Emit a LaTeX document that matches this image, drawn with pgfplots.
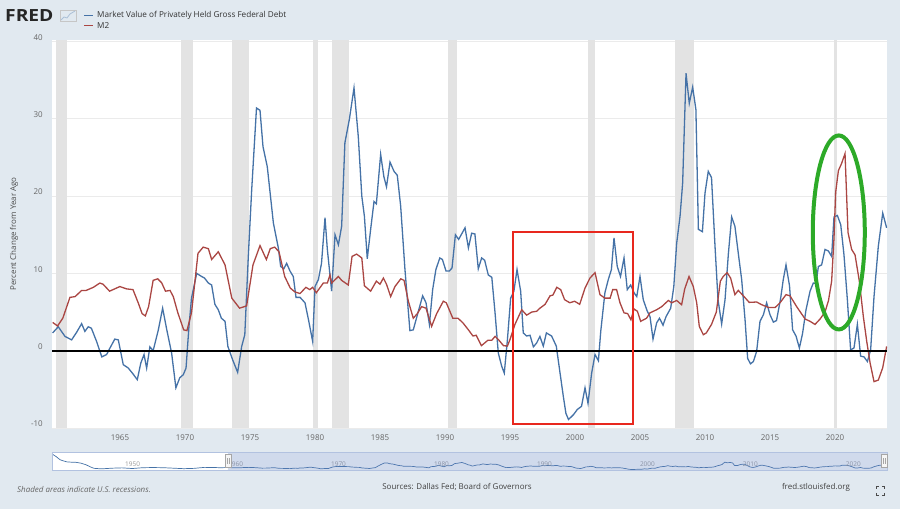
\documentclass[border=0pt]{standalone}
\usepackage{pgfplots}
\pgfplotsset{compat=1.18}
\usepackage{pgfplotstable}
\usepgfplotslibrary{fillbetween}
\usepackage{fontspec}
\setmainfont{Open Sans}
\definecolor{fredbg}{HTML}{E1E9F0}
\definecolor{fblue}{HTML}{4572A7}
\definecolor{fredred}{HTML}{AA4643}
\definecolor{recess}{HTML}{E3E3E3}
\definecolor{gridc}{HTML}{EBEBEB}
\definecolor{tickc}{HTML}{666666}
\definecolor{annred}{RGB}{232,40,30}
\definecolor{anngreen}{RGB}{45,170,40}
\definecolor{navmask}{RGB}{102,133,194}

\pgfplotstableread{
x y
1959.82 2.3
1960.25 3.1
1960.77 1.85
1961.28 1.4
1961.67 2.4
1962.05 3.5
1962.3 2.5
1962.56 3.1
1962.8 2.9
1963.2 1.2
1963.6 -0.8
1963.97 -0.5
1964.23 0.35
1964.6 1.5
1964.87 1.4
1965.25 -1.8
1965.64 -2.25
1966.0 -3.0
1966.33 -3.75
1966.6 -1.6
1966.85 -0.5
1967.05 -2.25
1967.3 0.5
1967.55 0.0
1967.95 2.7
1968.28 5.5
1968.6 2.7
1968.97 -0.3
1969.3 -4.8
1969.6 -3.5
1969.87 -3.1
1970.08 -2.25
1970.3 3.0
1970.5 6.8
1970.9 10.0
1971.28 9.6
1971.5 9.4
1971.8 8.75
1972.05 8.5
1972.3 6.0
1972.56 5.3
1972.8 4.2
1973.08 3.8
1973.3 0.55
1973.67 -1.2
1974.05 -2.8
1974.36 0.55
1974.6 2.07
1974.87 12.2
1975.13 20.8
1975.5 31.4
1975.77 31.1
1976.0 26.4
1976.33 23.8
1976.8 16.5
1977.18 13.3
1977.36 10.9
1977.6 10.6
1977.82 11.3
1978.08 10.3
1978.33 9.6
1978.54 6.9
1978.85 6.9
1979.23 6.2
1979.5 4.0
1979.82 1.2
1980.0 8.3
1980.26 9.2
1980.5 11.3
1980.77 17.2
1980.95 13.1
1981.28 7.7
1981.54 15.0
1981.8 13.7
1982.05 16.1
1982.3 26.9
1982.64 29.9
1983.0 34.0
1983.33 27.7
1983.6 20.0
1983.8 17.4
1984.02 11.9
1984.28 15.7
1984.54 19.3
1984.72 19.0
1985.05 25.4
1985.3 22.5
1985.5 21.2
1985.77 24.4
1986.08 23.2
1986.33 22.7
1986.59 18.7
1986.92 10.5
1987.3 2.6
1987.56 2.7
1987.95 5.1
1988.28 7.1
1988.54 6.2
1988.8 3.4
1989.05 7.9
1989.3 10.5
1989.6 12.0
1989.8 11.8
1990.08 10.3
1990.33 10.3
1990.54 10.7
1990.8 15.0
1991.05 14.4
1991.54 15.9
1991.8 13.3
1992.05 15.2
1992.3 15.1
1992.56 10.6
1992.82 12.0
1993.05 11.7
1993.33 9.8
1993.6 9.5
1993.85 4.9
1994.1 -0.3
1994.36 -2.0
1994.56 -2.9
1994.8 1.4
1995.05 6.8
1995.3 7.7
1995.54 10.5
1995.82 7.7
1996.02 2.3
1996.28 1.9
1996.54 2.0
1996.8 0.5
1997.05 1.0
1997.3 1.85
1997.56 0.6
1997.8 2.3
1998.2 1.9
1998.56 0.6
1998.85 -2.9
1999.1 -5.9
1999.3 -8.1
1999.5 -8.9
1999.87 -8.3
2000.18 -7.6
2000.5 -7.2
2000.77 -4.8
2001.0 -6.8
2001.28 -2.9
2001.54 -0.5
2001.8 -1.3
2001.98 2.5
2002.3 7.5
2002.56 9.2
2002.8 10.5
2003.0 14.6
2003.25 10.9
2003.5 9.6
2003.77 12.0
2004.02 7.9
2004.28 8.5
2004.54 7.5
2004.75 7.0
2005.0 9.6
2005.25 6.6
2005.56 5.1
2005.77 4.4
2006.0 1.5
2006.28 3.6
2006.5 4.2
2006.77 3.3
2007.0 4.4
2007.36 5.5
2007.6 8.3
2007.82 13.9
2008.08 17.4
2008.28 21.7
2008.54 35.9
2008.79 32.0
2009.05 34.1
2009.3 31.2
2009.49 15.7
2009.8 15.4
2010.0 20.4
2010.25 23.2
2010.5 22.4
2010.77 13.5
2011.0 6.6
2011.28 3.45
2011.54 6.6
2011.8 12.6
2012.05 17.3
2012.3 16.1
2012.56 12.6
2012.82 9.2
2013.08 4.0
2013.28 -1.0
2013.5 -1.7
2013.72 -1.4
2013.97 -0.1
2014.23 3.8
2014.49 4.65
2014.74 6.2
2015.0 4.65
2015.26 3.7
2015.5 3.9
2015.82 6.8
2016.02 9.2
2016.23 11.1
2016.5 8.4
2016.74 2.7
2017.0 1.9
2017.26 0.35
2017.5 2.2
2017.77 5.3
2018.08 7.7
2018.33 8.75
2018.54 8.7
2018.72 10.9
2018.97 11.1
2019.23 13.1
2019.49 12.9
2019.74 12.2
2019.92 17.3
2020.18 17.5
2020.44 16.3
2020.69 12.4
2020.95 6.6
2021.2 0.1
2021.46 0.35
2021.72 3.4
2021.97 -0.7
2022.23 -0.8
2022.49 -1.4
2022.74 0.1
2023.0 7.0
2023.33 13.5
2023.67 17.8
2023.97 15.9
}\bluedata

\pgfplotstableread{
x y
1959.82 3.66
1960.2 3.2
1960.6 4.2
1961.15 6.9
1961.55 7.0
1962.05 7.8
1962.4 7.8
1962.95 8.2
1963.45 8.75
1963.7 8.6
1964.2 7.7
1964.99 8.3
1965.5 8.0
1966.0 7.9
1966.4 6.2
1966.7 4.8
1966.95 4.5
1967.2 5.7
1967.55 9.1
1967.9 9.3
1968.2 8.8
1968.5 7.7
1968.85 7.8
1969.1 7.0
1969.45 4.9
1969.9 2.7
1970.15 2.6
1970.5 4.9
1971.0 12.6
1971.4 13.4
1971.8 13.2
1972.05 11.8
1972.56 12.8
1973.08 11.1
1973.6 6.8
1974.2 5.5
1974.74 5.8
1975.23 11.1
1975.77 13.6
1976.26 11.8
1976.56 13.2
1976.9 13.4
1977.23 12.8
1977.67 9.6
1978.1 8.1
1978.46 7.6
1978.85 7.4
1979.3 8.2
1979.6 7.9
1979.82 8.2
1980.1 7.5
1980.64 8.75
1980.95 8.75
1981.15 9.8
1981.28 8.75
1981.8 9.6
1982.05 9.1
1982.56 8.5
1982.85 12.2
1983.2 12.5
1983.6 12.0
1983.8 8.4
1984.28 7.7
1984.72 9.0
1985.0 8.6
1985.26 9.4
1985.5 8.6
1985.82 7.0
1986.15 8.3
1986.6 9.3
1986.85 9.1
1987.18 6.4
1987.56 4.2
1987.87 4.8
1988.2 5.7
1988.54 5.5
1988.97 3.15
1989.36 4.8
1989.87 6.4
1990.1 6.2
1990.6 4.2
1991.0 4.2
1991.38 3.6
1991.8 2.7
1992.15 1.9
1992.4 2.0
1992.8 0.65
1993.3 1.35
1993.6 1.35
1993.85 1.85
1994.1 1.45
1994.5 0.65
1994.8 0.6
1995.0 1.45
1995.38 3.4
1995.9 5.3
1996.28 4.6
1996.67 5.0
1997.05 5.1
1997.3 5.5
1997.7 6.0
1998.08 7.1
1998.3 7.2
1998.6 8.2
1998.9 7.9
1999.2 6.6
1999.6 6.2
1999.97 6.4
2000.36 6.0
2000.77 8.1
2001.15 9.4
2001.54 10.1
2001.92 7.25
2002.3 6.8
2002.7 6.8
2002.9 7.9
2003.2 7.9
2003.46 6.2
2003.77 4.9
2004.05 4.8
2004.3 4.0
2004.54 5.4
2004.8 5.1
2005.05 3.8
2005.5 4.2
2005.77 4.9
2006.28 5.3
2006.67 5.7
2007.18 6.5
2007.44 6.2
2007.82 6.5
2008.2 5.95
2008.44 8.0
2008.77 9.6
2009.1 8.3
2009.36 6.2
2009.56 3.15
2009.87 2.07
2010.1 2.3
2010.5 3.4
2010.87 5.0
2011.18 9.0
2011.4 9.6
2011.7 10.1
2011.97 9.4
2012.3 7.25
2012.56 7.8
2012.95 7.1
2013.4 6.25
2013.97 6.3
2014.36 5.95
2014.87 5.6
2015.4 5.6
2015.77 6.2
2016.23 7.25
2016.54 7.1
2017.05 5.7
2017.7 4.1
2018.08 3.8
2018.46 3.4
2018.85 4.1
2019.23 5.0
2019.5 6.5
2019.74 9.0
2019.92 14.5
2020.05 20.5
2020.26 23.3
2020.5 24.2
2020.77 25.5
2021.0 15.3
2021.28 13.1
2021.54 12.4
2021.87 9.0
2022.18 4.4
2022.44 1.2
2022.7 -1.6
2023.0 -4.0
2023.33 -3.8
2023.67 -2.2
2023.97 0.55
}\mtwodata

\pgfplotstableread{
x y
1943.2 86
1943.6 70
1944.0 50
1944.6 38
1945.0 36
1945.5 35
1946.0 30
1946.5 20
1947.0 5
1947.3 -2
1948.0 -5
1949.0 -1
1950.0 1
1951.0 -3
1952.0 2
1953.0 3
1954.0 2
1955.0 -1
1956.0 -4
1957.0 -2
1958.0 4
1959.0 3
1959.5 2
}\navdata
\pgfplotstablevertcat{\navdata}{\bluedata}

\begin{document}
\begin{tikzpicture}[x=1bp,y=1bp]
\fill[fredbg] (0,0) rectangle (900,509);
% logo
\node[anchor=base west, inner sep=0, font=\fontsize{16.8}{17}\selectfont\bfseries, text=black!85] at (5,487) {\scalebox{1.15}[1]{FRED}};
\draw[gray!45, line width=0.6bp] (60,488) rectangle (76,499);
\draw[fblue!45, line width=0.8bp] (61,489) -- (64,492) -- (67,491) -- (70,495) -- (75,498);
% legend
\draw[fblue, line width=1.8bp] (84,493.5) -- (93,493.5);
\node[anchor=west, inner sep=0, font=\fontsize{8.2}{9}\selectfont, text=black!80] at (97,493.5) {Market Value of Privately Held Gross Federal Debt};
\draw[fredred, line width=1.8bp] (84,483.5) -- (93,483.5);
\node[anchor=west, inner sep=0, font=\fontsize{8.2}{9}\selectfont, text=black!80] at (97,483.5) {M2};
% y label
\node[rotate=90, font=\fontsize{8}{9}\selectfont, text=black!70] at (14,275) {Percent Change from Year Ago};

\begin{axis}[
  at={(52bp,81bp)}, anchor=south west, scale only axis,
  width=835bp, height=388bp,
  xmin=1959.77, xmax=2024.0, ymin=-10, ymax=40.2,
  axis background/.style={fill=white},
  axis line style={draw=none}, tick style={draw=none},
  ytick={-10,0,10,20,30,40},
  xtick={1965,1970,...,2020},
  ymajorgrids, grid style={gridc, line width=0.8bp},
  ticklabel style={font=\fontsize{8}{9}\selectfont, text=tickc, inner sep=0pt},
  xticklabel style={anchor=base, yshift=-12.9bp},
  yticklabel style={anchor=base east, xshift=-9bp, yshift=1.2bp},
  /pgf/number format/assume math mode=true,
  /pgf/number format/1000 sep={},
]
\addplot[fill=recess, draw=none] coordinates {(1960.08,-10) (1960.08,40.2) (1960.92,40.2) (1960.92,-10)};
\addplot[fill=recess, draw=none] coordinates {(1969.69,-10) (1969.69,40.2) (1970.62,40.2) (1970.62,-10)};
\addplot[fill=recess, draw=none] coordinates {(1973.62,-10) (1973.62,40.2) (1974.92,40.2) (1974.92,-10)};
\addplot[fill=recess, draw=none] coordinates {(1979.85,-10) (1979.85,40.2) (1980.23,40.2) (1980.23,-10)};
\addplot[fill=recess, draw=none] coordinates {(1981.31,-10) (1981.31,40.2) (1982.62,40.2) (1982.62,-10)};
\addplot[fill=recess, draw=none] coordinates {(1990.23,-10) (1990.23,40.2) (1990.92,40.2) (1990.92,-10)};
\addplot[fill=recess, draw=none] coordinates {(2001.0,-10) (2001.0,40.2) (2001.54,40.2) (2001.54,-10)};
\addplot[fill=recess, draw=none] coordinates {(2007.69,-10) (2007.69,40.2) (2009.15,40.2) (2009.15,-10)};
\addplot[fill=recess, draw=none] coordinates {(2019.94,-10) (2019.94,40.2) (2020.12,40.2) (2020.12,-10)};
\addplot[fblue, line width=1.3bp] table[x=x, y=y] {\bluedata};
\addplot[fredred, line width=1.3bp] table[x=x, y=y] {\mtwodata};
\addplot[black, line width=1.6bp] coordinates {(1959.77,0) (2024.0,0)};
\draw[annred, line width=2.2bp] (axis cs:1995.25,15.32) rectangle (axis cs:2004.48,-9.48);
\draw[anngreen, line width=4bp] (axis cs:2020.29,15.3) ellipse [x radius=26bp, y radius=97bp];
\end{axis}

% navigator
\fill[white] (52,39) rectangle (887,57);
\begin{axis}[
  at={(52bp,39bp)}, anchor=south west, scale only axis,
  width=835bp, height=18bp,
  xmin=1943.2, xmax=2024.3, ymin=-12, ymax=98,
  hide axis,
]
\addplot[name path=nav, fblue, line width=0.7bp] table[x=x, y=y] {\navdata};
\path[name path=navb] (axis cs:1943.2,-12) -- (axis cs:2024.3,-12);
\addplot[fblue, fill opacity=0.6, draw=none] fill between[of=nav and navb];
\foreach \yr in {1950,1960,...,2020}{
  \edef\tmp{\noexpand\node[anchor=west, inner sep=0, xshift=3bp, font=\noexpand\fontsize{6.5}{7}\noexpand\selectfont, text=gray!80] at (axis cs:\yr,21) {\yr};}
  \tmp
}
\end{axis}
\fill[navmask, opacity=0.3] (228,39) rectangle (887,57);
\draw[navmask!50, line width=0.4bp] (52,39) rectangle (887,57);
\foreach \hx in {228,884}{
  \draw[gray!70, fill=gray!8, line width=0.5bp] (\hx-3,41.5) rectangle (\hx+3,54.5);
  \draw[gray!70, line width=0.5bp] (\hx-1,45) -- (\hx-1,51) (\hx+1,45) -- (\hx+1,51);
}
% footer
\node[anchor=west, inner sep=0, font=\fontsize{8}{9}\selectfont\itshape, text=black!60] at (17,19) {Shaded areas indicate U.S. recessions.};
\node[inner sep=0, font=\fontsize{8}{9}\selectfont, text=black!75] at (457,22) {Sources: Dallas Fed; Board of Governors};
\node[inner sep=0, font=\fontsize{8}{9}\selectfont, text=black!75] at (816,22) {fred.stlouisfed.org};
\begin{scope}[black!70, line width=0.9bp]
\draw (876,20) -- (876,22.5) -- (878.5,22.5);
\draw (884,20) -- (884,22.5) -- (881.5,22.5);
\draw (876,16) -- (876,13.5) -- (878.5,13.5);
\draw (884,16) -- (884,13.5) -- (881.5,13.5);
\end{scope}
\end{tikzpicture}
\end{document}
